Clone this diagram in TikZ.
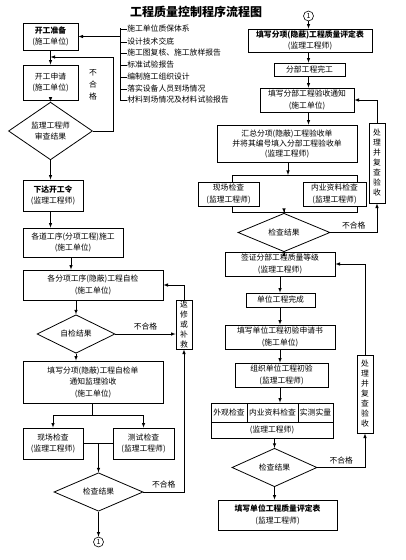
\documentclass[tikz,border=0pt]{standalone}
\usepackage{fontspec}
\setmainfont{Noto Sans CJK SC}
\usetikzlibrary{shapes,arrows,positioning}
\tikzstyle{block} = [draw,rectangle,line width=0.8pt,inner sep=0pt,align=center]
\tikzstyle{decision} = [draw,diamond,line width=0.8pt,inner sep=0pt,align=center]
\tikzstyle{vblock} = [block,minimum width=16pt,font=\fontsize{7.8}{10}\selectfont]
\tikzstyle{ring} = [draw,circle,inner sep=0pt,minimum size=10pt,font=\fontsize{7}{8}\selectfont]

\begin{document}
\begin{tikzpicture}[x=1pt,y=1pt,>=latex,line width=0.6pt,font=\fontsize{7.8}{11.5}\selectfont]
  \useasboundingbox (0,0) rectangle (406,-560);
  \node[font=\fontsize{12}{14}\selectfont\bfseries] (title) at (196,-12) {工程质量控制程序流程图};

  %left column
  \node[block,minimum width=55pt,minimum height=27pt] (prep) at (50.5,-36.5) {\textbf{开工准备}\\(施工单位)};
  \node[block,minimum width=55pt,minimum height=35pt] (apply) at (50.5,-82.5) {开工申请\\(施工单位)};
  \node[decision,minimum width=84pt,minimum height=48pt] (review) at (50.5,-131) {监理工程师\\审查结果};
  \node[align=center,font=\fontsize{7.8}{12}\selectfont] (nq0) at (93,-85) {不\\合\\格};
  \node[block,minimum width=60pt,minimum height=31pt] (order) at (53,-195.5) {\textbf{下达开工令}\\(监理工程师)};
  \node[block,minimum width=100pt,minimum height=29pt] (proc) at (73,-242.5) {各道工序(分项工程)施工\\(施工单位)};
  \node[block,minimum width=140pt,minimum height=30pt] (self) at (93,-285) {各分项工序(隐蔽)工程自检\\(施工单位)};
  \node[decision,minimum width=78pt,minimum height=30pt] (selfres) at (76,-334) {自检结果};
  \node[vblock,minimum height=49pt] (redo) at (184,-324.5) {返\\修\\或\\补\\救};
  \node[block,minimum width=140pt,minimum height=42pt] (sheet) at (93,-382) {填写分项(隐蔽)工程自检单\\通知监理验收\\(施工单位)};
  \node[block,minimum width=60pt,minimum height=31pt] (site1) at (53,-443.5) {现场检查\\(监理工程师)};
  \node[block,minimum width=61pt,minimum height=31pt] (test1) at (143.5,-443.5) {测试检查\\(监理工程师)};
  \node[decision,minimum width=89pt,minimum height=30pt] (res1) at (98.5,-492) {检查结果};
  \node[ring] (link1) at (98.5,-542) {1};

  %preparation list
  \coordinate (lsttop) at (120,-28);
  \coordinate (lstbot) at (120,-101);
  \draw (lsttop) -- (lstbot);
  \foreach \txt/\yy [count=\i] in {施工单位质保体系/29,设计技术交底/42,施工图复核、施工放样报告/53,标准试验报告/65,编制施工组织设计/77,落实设备人员到场情况/89,材料到场情况及材料试验报告/100}{
    \node[anchor=west,inner sep=0pt] (item\i) at (127,-\yy) {\txt};
    \draw (item\i.west) -- (item\i.west -| lsttop);
  }
  \draw [->] (prep.east -| lsttop) -- (prep.east);

  %left arrows
  \coordinate (back1) at (50.5,-57);
  \coordinate (nq) at (113,-57);
  \draw [->] (prep) -- (apply);
  \draw [->] (apply) -- (review);
  \draw [->] (review.east) -| (nq) -- (back1);
  \draw [->] (review.south) -- (review.south |- order.north);
  \draw [->] (review.south |- order.south) -- (review.south |- proc.north);
  \draw [->] ([xshift=-2pt]proc.south) -- ([xshift=-2pt]proc.south |- self.north);
  \draw [->] (selfres.north |- self.south) -- (selfres.north);
  \draw [->] (selfres.east) -- node[above]{不合格} (selfres.east -| redo.west);
  \draw [->] (redo.north) |- (self.east);
  \draw [->] (selfres.south) -- (selfres.south |- sheet.north);
  \coordinate (split1) at (92,-415);
  \draw (sheet.south -| split1) -- (split1);
  \draw [->] (split1) -| (site1.north);
  \draw [->] (split1) -| (test1.north);
  \coordinate (join1) at (98.5,-443.5);
  \draw (site1.east) -- (test1.west);
  \draw [->] (join1) -- (res1.north);
  \draw [->] (res1.east) -| node[pos=0.25,above]{不合格} (redo.south);
  \draw [->] (res1) -- (link1);

  %right column
  \node[ring] (link2) at (308.5,-16) {1};
  \node[block,minimum width=124pt,minimum height=23pt] (eval1) at (310,-40.5) {\textbf{填写分项(隐蔽)工程质量评定表}\\(监理工程师)};
  \node[block,minimum width=71pt,minimum height=13pt] (sub) at (309.5,-69.5) {分部工程完工};
  \node[block,minimum width=94pt,minimum height=24pt] (notice) at (307,-100) {填写分部工程验收通知\\(施工单位)};
  \node[block,minimum width=140pt,minimum height=37pt,font=\fontsize{7.8}{10}\selectfont] (sum) at (287,-143.5) {汇总分项(隐蔽)工程验收单\\并将其编号填入分部工程验收单\\(监理工程师)};
  \node[block,minimum width=61pt,minimum height=24pt] (site2) at (228.5,-194) {现场检查\\(监理工程师)};
  \node[block,minimum width=63pt,minimum height=24pt] (doc2) at (334.5,-194) {内业资料检查\\(监理工程师)};
  \node[decision,minimum width=92pt,minimum height=21pt] (res2) at (284,-232.5) {检查结果};
  \node[vblock,minimum height=80pt] (fix1) at (377,-163) {处\\理\\并\\复\\查\\验\\收};
  \node[block,minimum width=110pt,minimum height=24pt] (grade) at (280,-264) {签证分部工程质量等级\\(监理工程师)};
  \node[block,minimum width=69pt,minimum height=14pt] (unit) at (280.5,-300) {单位工程完成};
  \node[block,minimum width=110pt,minimum height=24pt] (unitapp) at (280,-337) {填写单位工程初验申请书\\(施工单位)};
  \node[block,minimum width=93pt,minimum height=24pt] (unitchk) at (281.5,-375) {组织单位工程初验\\(监理工程师)};
  %table
  \node[block,minimum width=36pt,minimum height=19pt] (look) at (229,-412.5) {外观检查};
  \node[block,minimum width=51pt,minimum height=19pt] (inner) at (272.5,-412.5) {内业资料检查};
  \node[block,minimum width=35pt,minimum height=19pt] (meas) at (315.5,-412.5) {实测实量};
  \node[block,minimum width=122pt,minimum height=16pt] (tabfoot) at (272,-430) {(监理工程师)};
  \node[decision,minimum width=85pt,minimum height=29pt] (res3) at (274.5,-467.5) {检查结果};
  \node[vblock,minimum height=78pt] (fix2) at (365,-394) {处\\理\\并\\复\\查\\验\\收};
  \node[block,minimum width=119pt,minimum height=30pt] (eval2) at (277.5,-515) {\textbf{填写单位工程质量评定表}\\(监理工程师)};

  %right arrows
  \draw [->] (link2) -- (link2 |- eval1.north);
  \draw [->] (link2 |- eval1.south) -- (link2 |- sub.north);
  \draw [->] (link2 |- sub.south) -- (link2 |- notice.north);
  \draw [->] (link2 |- notice.south) -- (link2 |- sum.north);
  \coordinate (split2) at (288,-175);
  \coordinate (s2l) at (232,-175);
  \coordinate (s2r) at (357,-175);
  \draw [->] (split2 |- sum.south) -- (split2);
  \draw (s2l |- site2.north) -- (s2l) -- (s2r) -- (s2r |- doc2.north);
  \coordinate (j2l) at (232,-212);
  \coordinate (j2r) at (357,-212);
  \draw (j2l |- site2.south) -- (j2l) -- (j2r) -- (j2r |- doc2.south);
  \draw [->] (res2.north |- j2l) -- (res2.north);
  \draw [->] (res2.east) -| node[pos=0.25,above]{不合格} (fix1.south);
  \draw [->] (fix1.north) |- (notice.east);
  \draw [->] (res2.south) -- (res2.south |- grade.north);
  \draw [->] (grade.south) -- (grade.south |- unit.north);
  \draw [->] (grade.south |- unit.south) -- (grade.south |- unitapp.north);
  \draw [->] (unitapp.south) -- (unitapp.south |- unitchk.north);
  \draw [->] (unitapp.south |- unitchk.south) -- (unitapp.south |- inner.north);
  \draw [->] (res3.north |- tabfoot.south) -- (res3.north);
  \draw [->] (res3.east) -| node[pos=0.25,above]{不合格} (fix2.south);
  \draw [->] (fix2.north) |- (grade.east);
  \draw [->] (res3.south) -- (res3.south |- eval2.north);

\end{tikzpicture}
\end{document}
